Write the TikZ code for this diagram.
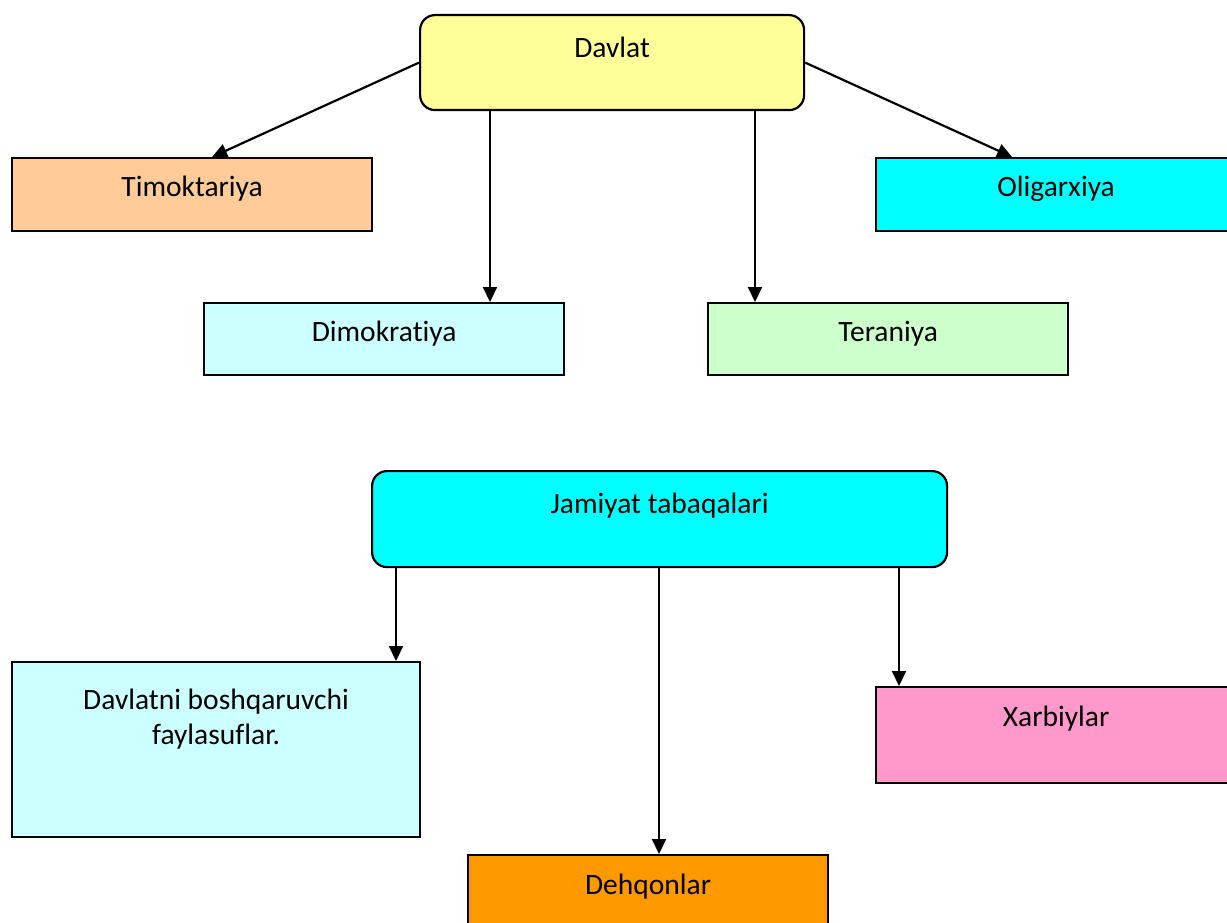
\documentclass[tikz,border=0pt]{standalone}
\usepackage{fontspec}
\setmainfont{Carlito}[RawFeature={-liga;-dlig;-clig}]
\usetikzlibrary{arrows.meta,calc}
\definecolor{cYellow}{HTML}{FFFF99}
\definecolor{cPeach}{HTML}{FFCC99}
\definecolor{cCyan}{HTML}{00FFFF}
\definecolor{cLCyan}{HTML}{CCFFFF}
\definecolor{cLGreen}{HTML}{CCFFCC}
\definecolor{cPink}{HTML}{FF99CC}
\definecolor{cOrange}{HTML}{FF9900}
\tikzset{
  box/.style={draw=black, line width=2.2pt, rectangle, anchor=north west, inner xsep=0pt, inner ysep=0pt,
    font=\fontsize{29.5}{35}\selectfont},
  rbox/.style={box, rounded corners=15pt},
  arr/.style={draw=black, line width=2.2pt, -{Triangle[length=15pt,width=14pt]}}
}
\begin{document}
\begin{tikzpicture}[x=1pt,y=-1pt]
\useasboundingbox (0,0) rectangle (1227,923);
\node[rbox, fill=cYellow, minimum width=384pt, text height=42pt, text depth=53pt] (davlat) at (419,14) {Davlat};
\node[box, fill=cPeach, minimum width=360pt, text height=38pt, text depth=35pt] (timo) at (11,157) {Timoktariya};
\node[box, fill=cCyan, minimum width=360pt, text height=38pt, text depth=35pt] (olig) at (875,157) {Oligarxiya};
\node[box, fill=cLCyan, minimum width=360pt, text height=38pt, text depth=34pt] (dimo) at (203,302) {Dimokratiya};
\node[box, fill=cLGreen, minimum width=360pt, text height=38pt, text depth=34pt] (tera) at (707,302) {Teraniya};
\node[rbox, fill=cCyan, minimum width=575pt, text height=42pt, text depth=54pt] (jam) at (371,470) {Jamiyat tabaqalari};
\node[box, fill=cLCyan, minimum width=408pt, text height=47pt, text depth=128pt] (fay) at (11,661)
  {\parbox[t]{400pt}{\centering\fontsize{29.5}{35}\selectfont Davlatni boshqaruvchi\\faylasuflar.}};
\node[box, fill=cPink, minimum width=360pt, text height=39pt, text depth=57pt] (xarb) at (875,686) {Xarbiylar};
\node[box, fill=cOrange, minimum width=360pt, text height=39pt, text depth=33pt] (dehq) at (467,854) {Dehqonlar};

\draw[arr] (davlat.west) -- ($(timo.north)+(20,0)$);
\draw[arr] (davlat.east) -- ($(olig.north)+(-44,0)$);
\coordinate (d1) at ($(davlat.south west)+(71,0)$);
\coordinate (d2) at ($(davlat.south west)+(336,0)$);
\draw[arr] (d1) -- (d1 |- dimo.north);
\draw[arr] (d2) -- (d2 |- tera.north);
\coordinate (j1) at ($(jam.south west)+(25,0)$);
\coordinate (j2) at ($(jam.south west)+(288,0)$);
\coordinate (j3) at ($(jam.south west)+(528,0)$);
\draw[arr] (j1) -- (j1 |- fay.north);
\draw[arr] (j2) -- (j2 |- dehq.north);
\draw[arr] (j3) -- (j3 |- xarb.north);
\end{tikzpicture}
\end{document}
